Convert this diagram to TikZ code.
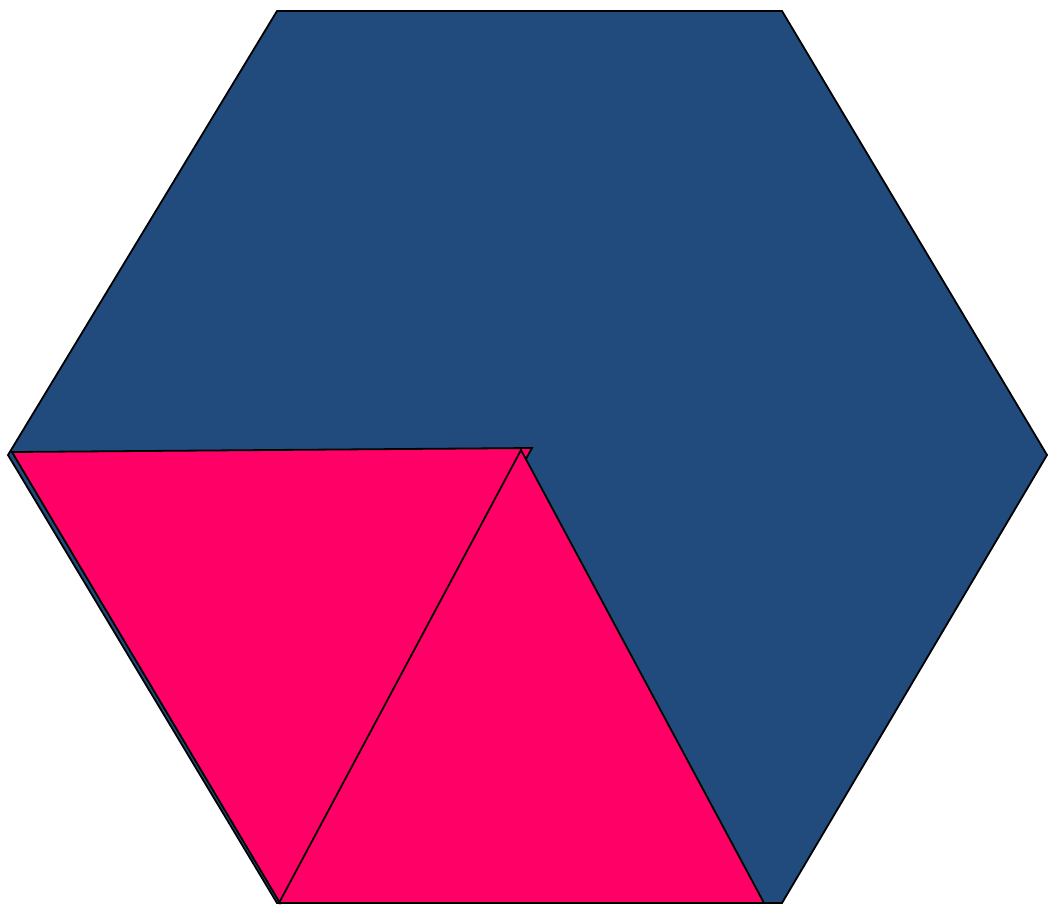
\documentclass[tikz,border=0pt]{standalone}
\definecolor{hexblue}{RGB}{33,75,125}
\definecolor{tripink}{RGB}{255,0,102}
\begin{document}
\begin{tikzpicture}[x=0.5pt,y=-0.5pt,
  polyline/.style={draw=black,line width=0.9pt,line join=miter}]
\useasboundingbox (0,0) rectangle (1048,905);
\filldraw[polyline,fill=hexblue] (277,11) -- (782,11) -- (1047,455) -- (782,903) -- (277,903) -- (8,455) -- cycle;
\filldraw[polyline,fill=tripink] (12,452) -- (532,448) -- (280,903) -- cycle;
\filldraw[polyline,fill=tripink] (521,450) -- (764,903) -- (279,903) -- cycle;
\end{tikzpicture}
\end{document}
